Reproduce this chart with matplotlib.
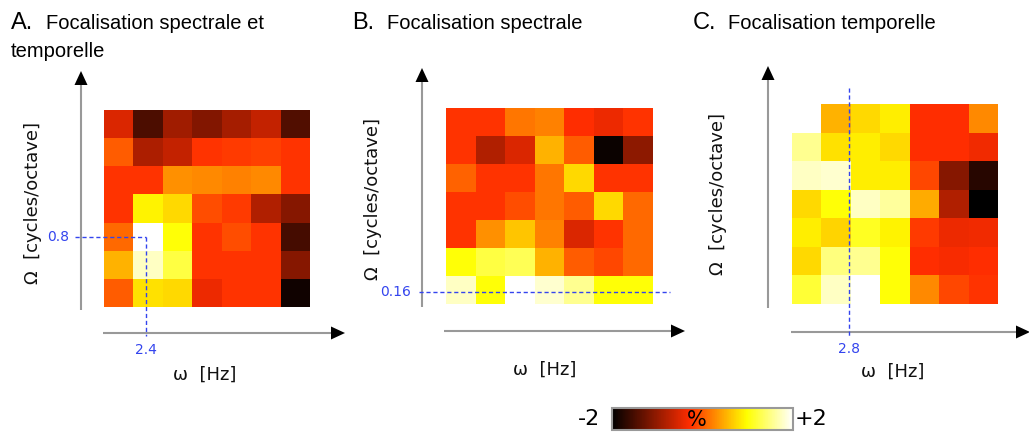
import matplotlib
matplotlib.use("Agg")
import matplotlib.pyplot as plt
import numpy as np
from matplotlib.colors import LinearSegmentedColormap
from matplotlib.patches import Polygon

# modulation maps, values in % (rows top -> bottom, Omega decreasing)
map_a = [[-0.52, -1.48, -0.92, -1.12, -0.88, -0.68, -1.44],
         [0.00, -0.84, -0.68, -0.24, -0.20, -0.16, -0.24],
         [-0.24, -0.24, 0.32, 0.28, 0.22, 0.28, -0.24],
         [-0.24, 0.92, 0.76, -0.08, -0.20, -0.80, -1.08],
         [0.08, 2.00, 1.00, -0.24, -0.08, -0.24, -1.52],
         [0.52, 1.76, 1.24, -0.24, -0.24, -0.24, -1.08],
         [0.00, 0.80, 0.76, -0.40, -0.24, -0.24, -1.88]]
map_b = [[-0.24, -0.24, 0.16, 0.22, -0.28, -0.40, -0.24],
         [-0.24, -0.80, -0.52, 0.52, 0.00, -1.92, -1.04],
         [0.04, -0.24, -0.24, 0.16, 0.76, -0.24, -0.24],
         [-0.24, -0.24, -0.08, 0.16, 0.00, 0.76, 0.08],
         [-0.24, 0.32, 0.64, 0.22, -0.52, -0.24, 0.08],
         [1.00, 1.24, 1.32, 0.52, 0.00, -0.12, 0.08],
         [1.76, 1.00, 2.00, 1.80, 1.56, 1.00, 1.00]]
map_c = [[2.00, 0.52, 0.76, 0.88, -0.28, -0.28, 0.28],
         [1.56, 0.80, 0.88, 0.76, -0.28, -0.28, -0.36],
         [1.76, 1.80, 0.88, 0.88, -0.12, -1.08, -1.72],
         [0.76, 1.00, 1.76, 1.60, 0.48, -0.80, -2.00],
         [0.88, 0.72, 1.12, 0.92, -0.20, -0.40, -0.36],
         [0.76, 1.48, 1.56, 1.00, -0.28, -0.32, -0.28],
         [1.20, 1.76, 2.00, 1.00, 0.28, -0.12, -0.24]]
titles = ["A.", "B.", "C."]
subtitles = ["Focalisation spectrale et\ntemporelle", "Focalisation spectrale",
             "Focalisation temporelle"]
marks = ["0.8", "2.4", "0.16", "2.8"]
vmin, vmax = -2, 2

# hot-like map, dark end tinted towards red-orange
cmap = LinearSegmentedColormap.from_list(
    'heat', [(0.0, '#000000'), (0.43, '#ff2d00'), (0.746, '#ffff00'), (1.0, '#ffffff')])

W, H = 1029, 433
fig = plt.figure(figsize=(W / 100, H / 100), dpi=100)

def px_axes(x0, y0, x1, y1, **kw):
    return fig.add_axes([x0 / W, 1 - y1 / H, (x1 - x0) / W, (y1 - y0) / H], **kw)

#----------------------------------------------------------------#
# heatmaps
boxes = [(104, 110, 310, 307), (446, 108, 653, 304), (792, 104, 998, 304)]
for data, box in zip([map_a, map_b, map_c], boxes):
    ax = px_axes(*box)
    ax.imshow(np.array(data), cmap=cmap, vmin=vmin, vmax=vmax,
              interpolation='nearest', aspect='auto')
    ax.set_xticks([]); ax.set_yticks([])
    for s in ax.spines.values():
        s.set_visible(False)

#----------------------------------------------------------------#
# overlay for axes arrows, labels and guides
ov = px_axes(0, 0, W, H, zorder=5)
ov.set_xlim(0, W); ov.set_ylim(H, 0)
ov.axis('off')

gray = '#999999'
blue = '#3344ee'

def arrow(x0, y0, x1, y1):
    ov.plot([x0, x1], [y0, y1], color=gray, lw=1.5, solid_capstyle='butt')
    d = np.array([x1 - x0, y1 - y0], float)
    d /= np.hypot(*d)
    n = np.array([-d[1], d[0]])
    tip = np.array([x1, y1]) + d * 14
    base = np.array([x1, y1])
    ov.add_patch(Polygon([tip, base + n * 6.5, base - n * 6.5], closed=True,
                         color='black', lw=0))

# panel axes: (y-axis x, y-axis bottom, y-axis top, x-axis y, x-axis left, x-axis right)
frames = [(81, 310, 85, 333, 103, 331),
          (422, 307, 82, 331, 444, 671),
          (768, 308, 80, 332, 791, 1016)]
ylab_pos = [(33, 203), (373, 199), (718, 194)]
xlab_pos = [(205, 375), (545, 370), (893, 372)]
for (yx, yb, yt, xy, xl, xr), yl, xlp in zip(frames, ylab_pos, xlab_pos):
    arrow(yx, yb, yx, yt)
    arrow(xl, xy, xr, xy)
    ov.text(*yl, "Ω  [cycles/octave]", rotation=90, ha='center', va='center',
            fontsize=13, color='#111111')
    ov.text(*xlp, "ω  [Hz]", ha='center', va='center', fontsize=13,
            color='#111111')

# titles
title_font = ['Liberation Sans', 'DejaVu Sans']
for tx, t, st in zip([11, 352, 693], titles, subtitles):
    ov.text(tx, 29, t, fontsize=17, family=title_font, ha='left', va='baseline')
    lines = st.split('\n')
    ov.text(tx + 35, 29, lines[0], fontsize=14.5, family=title_font,
            ha='left', va='baseline')
    if len(lines) > 1:
        ov.text(tx, 57, lines[1], fontsize=14.5, family=title_font,
                ha='left', va='baseline')

# dashed guides
dash = dict(color=blue, lw=1, ls=(0, (3, 2)))
ov.plot([75, 146], [237, 237], **dash)
ov.plot([146, 146], [237, 336], **dash)
ov.text(58, 237, marks[0], color=blue, fontsize=10, ha='center', va='center')
ov.text(146, 350, marks[1], color=blue, fontsize=10, ha='center', va='center')
ov.plot([419, 670], [292, 292], **dash)
ov.text(396, 292, marks[2], color=blue, fontsize=10, ha='center', va='center')
ov.plot([849, 849], [88, 336], **dash)
ov.text(849, 349, marks[3], color=blue, fontsize=10, ha='center', va='center')

#----------------------------------------------------------------#
# colour bar
cax = px_axes(612, 408, 793, 430, zorder=4)
sm = plt.cm.ScalarMappable(cmap=cmap, norm=plt.Normalize(vmin, vmax))
cb = fig.colorbar(sm, cax=cax, orientation='horizontal', ticks=[])
cb.outline.set_edgecolor(gray)
cb.outline.set_linewidth(1.5)
ov.text(697, 420, "%", fontsize=15, ha='center', va='center')
ov.text(600, 419, "-2", fontsize=16, ha='right', va='center')
ov.text(795, 419, "+2", fontsize=16, ha='left', va='center')

fig.savefig("out.png", dpi=100)
